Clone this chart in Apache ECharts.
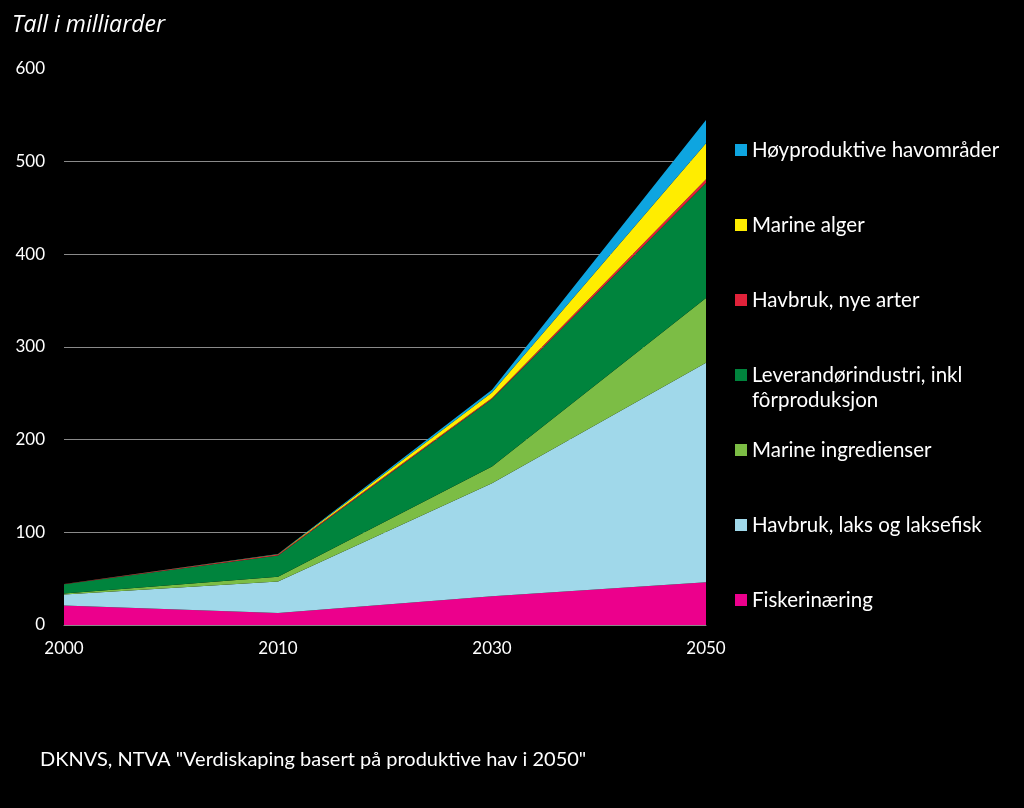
<!DOCTYPE html>
<html>
<head>
<meta charset="utf-8">
<script src="https://cdn.jsdelivr.net/npm/echarts@6/dist/echarts.min.js"></script>
<style>
html,body{margin:0;padding:0;background:#000;}
#c{width:1024px;height:808px;}
</style>
</head>
<body>
<div id="c"></div>
<script>
const years = ['2000', '2010', '2030', '2050'];
const yTicks = [0, 100, 200, 300, 400, 500, 600];
const fiskerinaering = [21, 13, 31, 46];
const havbrukLaks = [12, 34, 122, 237];
const marineIngredienser = [1, 5, 18, 70];
const leverandor = [10, 23, 73, 124];
const havbrukNye = [0.3, 1, 1, 4];
const marineAlger = [0, 0.3, 6, 39];
const hoyproduktive = [0, 0.2, 3, 25];

const names = ['Fiskerinæring', 'Havbruk, laks og laksefisk', 'Marine ingredienser',
  'Leverandørindustri, inkl fôrproduksjon', 'Havbruk, nye arter', 'Marine alger', 'Høyproduktive havområder'];
const colors = ['#ec008c', '#a0d8ea', '#7cbd45', '#00843d', '#e0223a', '#ffed00', '#0ea5e0'];
const values = [fiskerinaering, havbrukLaks, marineIngredienser, leverandor, havbrukNye, marineAlger, hoyproduktive];

const font = 'Lato, "Open Sans", sans-serif';
const series = names.map((n, i) => ({
  name: n, type: 'line', stack: 'total', data: values[i], symbol: 'none',
  lineStyle: {width: 0}, areaStyle: {color: colors[i], opacity: 1}, itemStyle: {color: colors[i]},
  z: 2
}));

// legend items top-down (centre of first text line)
const legendCenters = [150, 225, 300, 375, 450, 525, 600];
const legendOrder = [6, 5, 4, 3, 2, 1, 0];
const legends = legendOrder.map((si, k) => {
  const multi = si === 3;
  return {
    data: [names[si]], left: 730, top: legendCenters[k] - 5 - (multi ? 37.5 : 12.5), orient: 'vertical',
    itemWidth: 12, itemHeight: 12, itemGap: 0, icon: 'rect',
    formatter: multi ? ' \nLeverandørindustri, inkl\nfôrproduksjon' : '{name}',
    textStyle: {color: '#fff', fontFamily: font, fontSize: 20.5, lineHeight: 25},
    selectedMode: false
  };
});

const chart = echarts.init(document.getElementById('c'));
chart.setOption({
  backgroundColor: '#000',
  animation: false,
  title: {text: 'Tall i milliarder', left: 7, top: 9,
    textStyle: {color: '#fff', fontFamily: '"Open Sans", sans-serif', fontSize: 23, fontStyle: 'italic', fontWeight: 'normal'}},
  graphic: [{type: 'text', left: 40, top: 750,
    style: {text: 'DKNVS, NTVA "Verdiskaping basert på produktive hav i 2050"', fill: '#fff', font: '20px ' + font}}],
  legend: legends,
  grid: {left: 64, right: 318, top: 69, bottom: 183},
  xAxis: {type: 'category', data: years, boundaryGap: false,
    axisLine: {show: true, lineStyle: {color: '#8a8a8a', width: 1}},
    axisTick: {show: false},
    axisLabel: {color: '#fff', fontFamily: font, fontSize: 17, margin: 15}},
  yAxis: {type: 'value', min: yTicks[0], max: yTicks[yTicks.length - 1], interval: 100,
    axisLine: {show: false}, axisTick: {show: false},
    axisLabel: {color: '#fff', fontFamily: font, fontSize: 17, margin: 19},
    splitLine: {show: true, lineStyle: {color: ['#8a8a8a', '#8a8a8a', '#8a8a8a', '#8a8a8a', '#8a8a8a', '#8a8a8a', 'rgba(0,0,0,0)'], width: 1}}},
  series: series
});
</script>
</body>
</html>
